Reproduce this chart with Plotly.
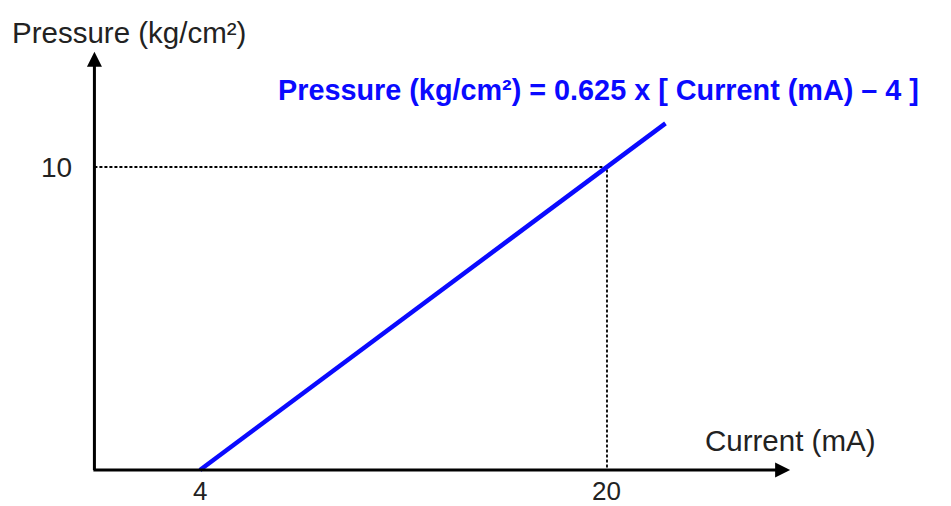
import plotly.graph_objects as go

# data
current_ma = [4, 20, 22.3]
pressure = [0, 10, 11.44]
x_ticks = [4, 20]
x_tick_labels = ["4", "20"]
y_ticks = [10]
y_tick_labels = ["10"]
ref_point = (20, 10)

# layout constants (figure is drawn over the full canvas)
W, H = 951, 506
X_RANGE = [-3.862, 33.524]
Y_RANGE = [-1.188, 15.512]
ORIGIN_X, ORIGIN_Y = -0.15, 0
X_END, Y_END = 27.2, 13.8
FONT = "Liberation Sans, Arial, sans-serif"
BLUE = "#0a0aff"
TEXT = "#222222"

fig = go.Figure()

# dashed guides to the reference point
fig.add_trace(go.Scatter(
    x=[ORIGIN_X, ref_point[0], ref_point[0]],
    y=[ref_point[1], ref_point[1], ORIGIN_Y],
    mode="lines",
    line=dict(color="black", width=1.8, dash="3px,2px"),
    hoverinfo="skip",
))

# pressure vs current line
fig.add_trace(go.Scatter(
    x=current_ma, y=pressure,
    mode="lines",
    line=dict(color=BLUE, width=4.5),
))

annotations = []

# axes with arrow heads
annotations.append(dict(
    x=X_END, y=ORIGIN_Y, ax=ORIGIN_X - 0.1, ay=ORIGIN_Y,
    xref="x", yref="y", axref="x", ayref="y",
    showarrow=True, arrowhead=2, arrowsize=1, arrowwidth=3, arrowcolor="black", text="",
))
annotations.append(dict(
    x=ORIGIN_X, y=Y_END, ax=ORIGIN_X, ay=ORIGIN_Y - 0.05,
    xref="x", yref="y", axref="x", ayref="y",
    showarrow=True, arrowhead=2, arrowsize=1, arrowwidth=3, arrowcolor="black", text="",
))

# tick labels
for v, t in zip(x_ticks, x_tick_labels):
    annotations.append(dict(
        x=v, y=ORIGIN_Y, xref="x", yref="y", text=t, showarrow=False,
        yanchor="top", yshift=-4, font=dict(size=26, color=TEXT, family=FONT),
    ))
for v, t in zip(y_ticks, y_tick_labels):
    annotations.append(dict(
        x=ORIGIN_X, y=v, xref="x", yref="y", text=t, showarrow=False,
        xanchor="right", xshift=-20, font=dict(size=28, color=TEXT, family=FONT),
    ))

# axis titles
annotations.append(dict(
    x=10 / W, y=1 - 33 / H, xref="paper", yref="paper",
    text="Pressure (kg/cm\u00b2)", showarrow=False,
    xanchor="left", yanchor="middle", font=dict(size=29.5, color=TEXT, family=FONT),
))
annotations.append(dict(
    x=703 / W, y=1 - 440 / H, xref="paper", yref="paper",
    text="Current (mA)", showarrow=False,
    xanchor="left", yanchor="middle", font=dict(size=29.5, color=TEXT, family=FONT),
))

# equation label
annotations.append(dict(
    x=276 / W, y=1 - 90 / H, xref="paper", yref="paper",
    text="<b>Pressure (kg/cm\u00b2) = 0.625 x [ Current (mA) \u2013 4 ]</b>",
    showarrow=False, xanchor="left", yanchor="middle",
    font=dict(size=28.8, color=BLUE, family=FONT),
))

fig.update_layout(
    width=W, height=H,
    margin=dict(l=0, r=0, t=0, b=0),
    paper_bgcolor="white", plot_bgcolor="white",
    showlegend=False,
    xaxis=dict(range=X_RANGE, visible=False, fixedrange=True),
    yaxis=dict(range=Y_RANGE, visible=False, fixedrange=True),
    annotations=annotations,
)

# drop the page's default body margin so the figure sits at the window's corner
fig.write_html("out.html", config={"displayModeBar": False},
               post_script="document.body.style.margin='0';")
